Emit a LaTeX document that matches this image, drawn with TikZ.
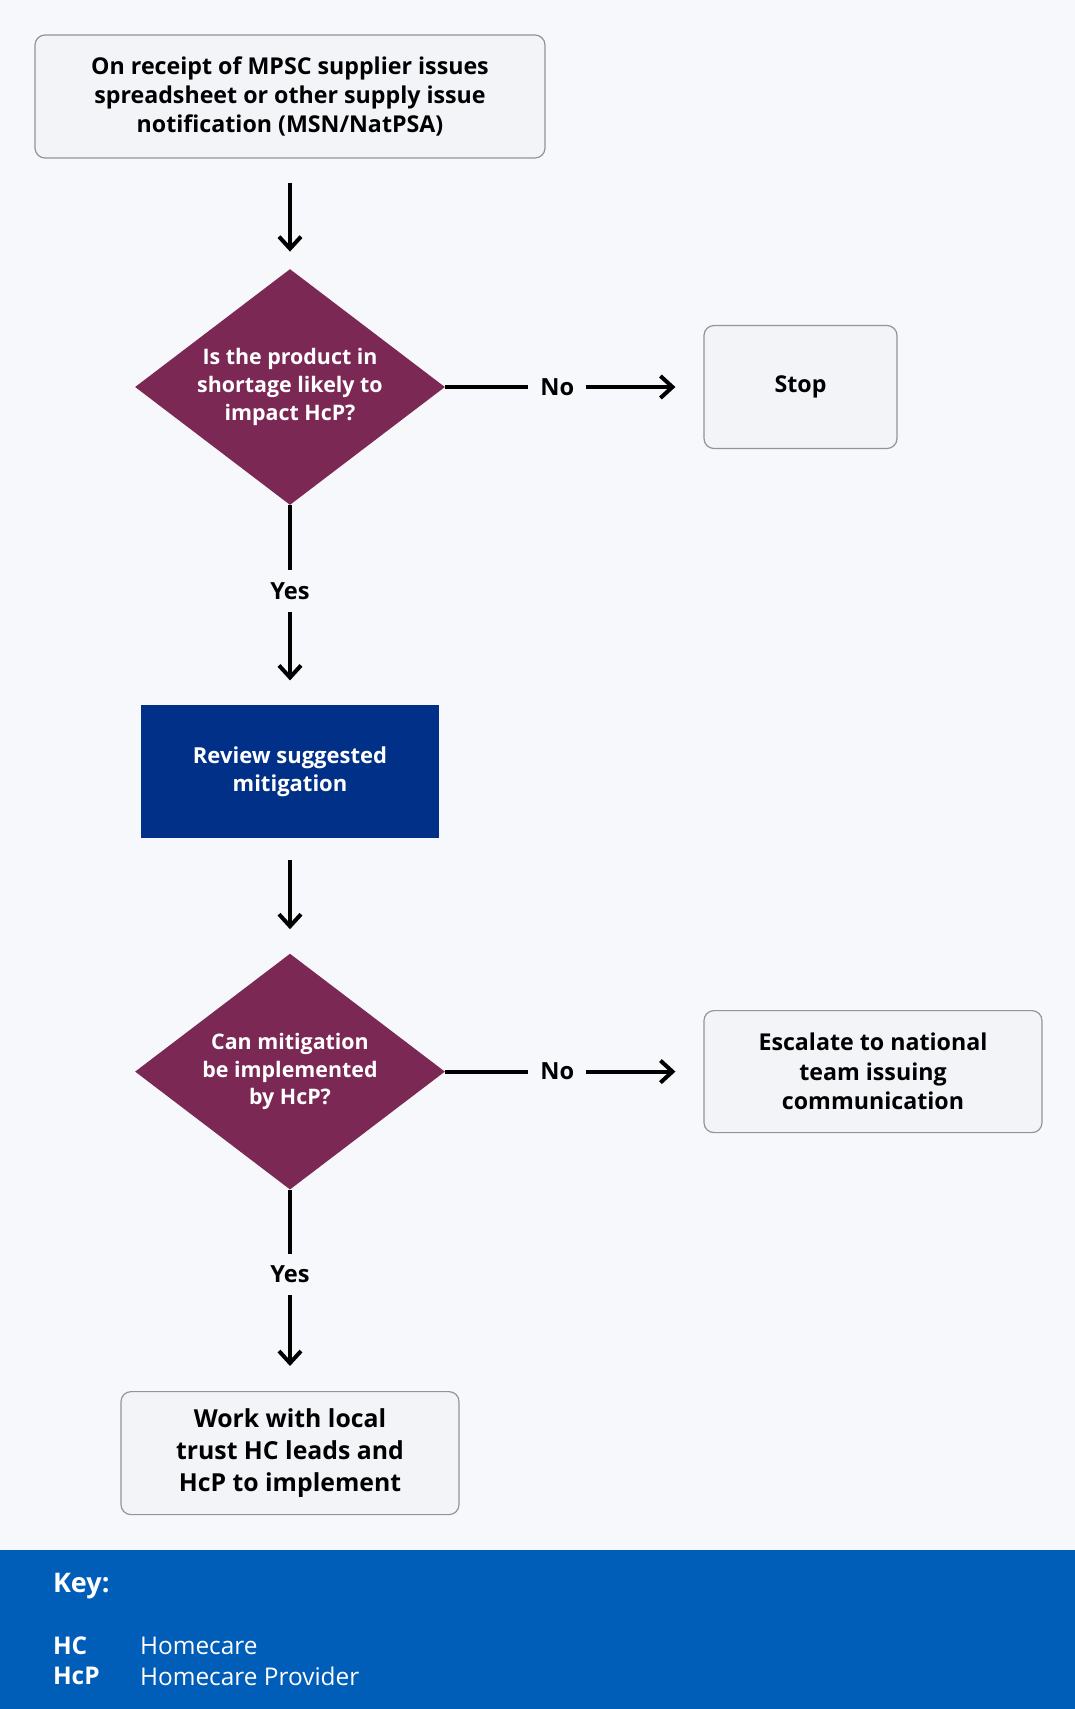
\documentclass[tikz,border=0pt]{standalone}
\usepackage{fontspec}
\setmainfont{Open Sans}
\usepackage{xcolor}
\definecolor{nhsDarkPink}{HTML}{7C2855}
\definecolor{nhsDarkBlue}{HTML}{003087}
\definecolor{nhsBlue}{HTML}{005EB8}
\definecolor{pageBack}{HTML}{F7F8FC}
\definecolor{boxBack}{HTML}{F3F4F8}
\colorlet{colorDecision}{nhsDarkPink}
\colorlet{colorAction}{nhsDarkBlue}
\colorlet{colorKey}{nhsBlue}
\colorlet{colorBorder}{black!42}
\usepackage{tikz}
\usetikzlibrary{arrows.meta, shapes.geometric, positioning}
\tikzset{
  infobox/.style={draw=colorBorder, line width=0.6pt, fill=boxBack, rounded corners=5pt, align=center, font=\bfseries\fontsize{11.6}{14.7}\selectfont},
  decision/.style={shape=diamond, fill=colorDecision, text=white, inner sep=0pt, aspect=1.31, minimum width=155pt, minimum height=118pt, align=center, font=\bfseries\fontsize{10.7}{13.9}\selectfont},
  actionbox/.style={fill=colorAction, text=white, align=center, font=\bfseries\fontsize{11}{14}\selectfont},
  flow/.style={line width=2pt, black},
  answer/.style={fill=pageBack, inner sep=6pt, font=\bfseries\fontsize{11.8}{13}\selectfont}
}

\begin{document}
\begin{tikzpicture}[x=0.5pt, y=-0.5pt, >={Straight Barb[length=6pt, width=11pt]}]
\useasboundingbox (0,0) rectangle (1075,1709);
\fill[pageBack] (0,0) rectangle (1075,1709);
\node[infobox, minimum width=255pt, minimum height=61.5pt] (recv) at (290,96.5) {On receipt of MPSC supplier issues\\spreadsheet or other supply issue\\notification (MSN/NatPSA)};
\node[decision, below=55pt of recv] (impact) {Is the product in\\shortage likely to\\impact HcP?};
\node[infobox, minimum width=96.5pt, minimum height=61.5pt, right=129pt of impact] (stop) {Stop};
\node[actionbox, minimum width=149pt, minimum height=66.5pt, below=99.5pt of impact] (review) {Review suggested\\mitigation};
\node[decision, below=57.5pt of review] (canimpl) {Can mitigation\\be implemented\\by HcP?};
\node[infobox, minimum width=169pt, minimum height=61pt, right=129pt of canimpl] (escalate) {Escalate to national\\team issuing\\communication};
\node[infobox, minimum width=169pt, minimum height=61.5pt, font=\bfseries\fontsize{12.4}{16}\selectfont, below=100.5pt of canimpl] (work) {Work with local\\trust HC leads and\\HcP to implement};
\draw [->, flow] (recv) edge [shorten <=12pt, shorten >=8.5pt] (impact);
\draw [->, flow] (impact) edge [shorten >=14pt] node [answer, pos=0.434]{No} (stop);
\draw [->, flow] (impact) edge [shorten >=12pt] node [answer, pos=0.43]{Yes} (review);
\draw [->, flow] (review) edge [shorten <=11pt, shorten >=12pt] (canimpl);
\draw [->, flow] (canimpl) edge [shorten >=14pt] node [answer, pos=0.434]{No} (escalate);
\draw [->, flow] (canimpl) edge [shorten >=12.5pt] node [answer, pos=0.42]{Yes} (work);
% key
\fill[colorKey] (0,1550) rectangle (1075,1709);
\node[anchor=west, text=white, font=\bfseries\fontsize{13.5}{16}\selectfont] (keytitle) at (46,1586) {Key:};
\node[anchor=west, text=white, font=\bfseries\fontsize{12.2}{14}\selectfont] (hc) at (46,1646) {HC};
\node[anchor=west, text=white, font=\bfseries\fontsize{12.2}{14}\selectfont] (hcp) at (46,1676) {HcP};
\node[anchor=west, text=white, font=\fontsize{12.2}{14}\selectfont] (hcdef) at (133,1646) {Homecare};
\node[anchor=west, text=white, font=\fontsize{12.2}{14}\selectfont] (hcpdef) at (133,1676) {Homecare Provider};
\end{tikzpicture}
\end{document}
